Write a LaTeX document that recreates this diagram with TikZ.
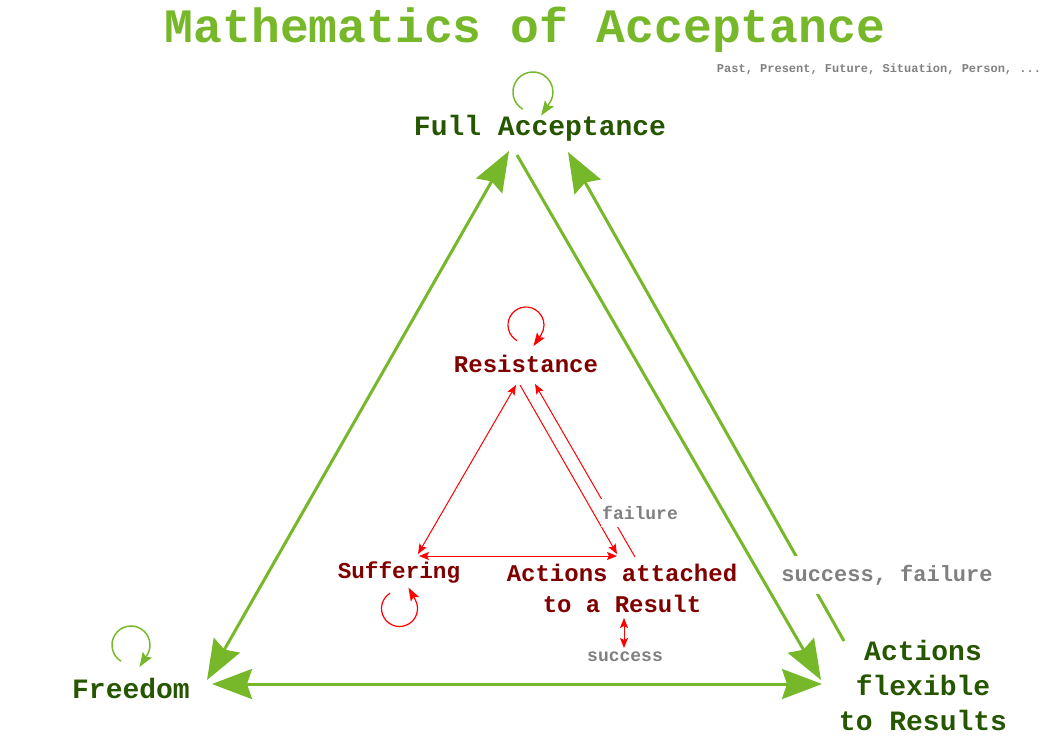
\documentclass[tikz,border=0pt]{standalone}
\usepackage{fontspec}
\setmainfont{Liberation Mono}
\usetikzlibrary{arrows.meta}
\definecolor{lgreen}{RGB}{119,184,42}
\definecolor{dgreen}{RGB}{38,86,0}
\definecolor{dred}{RGB}{128,0,0}
\definecolor{lred}{RGB}{255,0,0}
\definecolor{lgray}{RGB}{128,128,128}
\begin{document}
\begin{tikzpicture}[x=0.75pt,y=0.75pt,
  ttl/.style={font=\fontsize{36}{40}\selectfont\bfseries, text=lgreen, inner sep=0},
  gtxt/.style={font=\fontsize{21}{26.25}\selectfont\bfseries, text=dgreen, inner sep=0, align=center},
  rtxt/.style={font=\fontsize{18}{23.25}\selectfont\bfseries, text=dred, inner sep=0, align=center},
  smallnote/.style={font=\fontsize{9}{11}\selectfont\bfseries, text=lgray, inner sep=0},
  plainlbl/.style={font=\fontsize{13.5}{16}\selectfont\bfseries, text=lgray, inner sep=0},
  flbl/.style={font=\fontsize{13.5}{16}\selectfont\bfseries, text=lgray, fill=white, inner xsep=1pt, inner ysep=5.5pt},
  sflbl/.style={font=\fontsize{16.5}{20}\selectfont\bfseries, text=lgray, fill=white, inner xsep=2pt, inner ysep=7pt},
  gconn/.style={draw=lgreen, line width=2.25pt, arrows={-Stealth[length=30pt,width=22.5pt,inset=3.75pt]}},
  gdbl/.style={draw=lgreen, line width=2.25pt, arrows={Stealth[length=30pt,width=22.5pt,inset=3.75pt]-Stealth[length=30pt,width=22.5pt,inset=3.75pt]}},
  rconn/.style={draw=lred, line width=0.75pt, arrows={-Stealth[length=7.5pt,width=6pt,inset=1.5pt]}},
  rdbl/.style={draw=lred, line width=0.75pt, arrows={Stealth[length=7.5pt,width=6pt,inset=1.5pt]-Stealth[length=7.5pt,width=6pt,inset=1.5pt]}},
  gloop/.style={draw=lgreen, line width=1.1pt, arrows={-Stealth[length=11pt,width=8pt,inset=2pt]}},
  rloop/.style={draw=lred, line width=0.9pt, arrows={-Stealth[length=10pt,width=7pt,inset=2pt]}}
]
\useasboundingbox (0,0) rectangle (1052,-744);
\fill[white] (0,0) rectangle (1052,-744);

% nodes
\node[ttl] (title) at (525,-30) {Mathematics of Acceptance};
\node[smallnote] (ctx) at (879,-69) {Past, Present, Future, Situation, Person, ...};
\node[gtxt] (fa) at (540,-128) {Full Acceptance};
\node[gtxt] (fr) at (131,-688) {Freedom};
\node[gtxt] (af) at (923,-685) {Actions\\flexible\\to Results};
\node[rtxt] (res) at (526,-364) {Resistance};
\node[rtxt, font=\fontsize{17}{21}\selectfont\bfseries] (suf) at (399,-573) {Suffering};
\node[rtxt] (aa) at (622,-588.5) {Actions attached\\to a Result};
\node[plainlbl] (succ) at (625,-657) {success};

% outer green connectors
\draw[gdbl] ([shift={(-31,-23)}]fa.center) -- ([shift={(76,8)}]fr.center);
\draw[gconn] ([shift={(-23,-27)}]fa.center) -- ([shift={(-102,5)}]af.center);
\draw[gconn] ([shift={(-79,44)}]af.center) -- ([shift={(28,-24)}]fa.center);
\draw[gdbl] ([shift={(81,4)}]fr.center) -- ([shift={(-101,1)}]af.center);

% inner red connectors
\draw[rdbl] ([shift={(-10,-21)}]res.center) -- ([shift={(19,19)}]suf.center);
\draw[rconn] ([shift={(-6,-21)}]res.center) -- ([shift={(-5,34.5)}]aa.center);
\draw[rconn] ([shift={(13,31.5)}]aa.center) -- ([shift={(9,-20)}]res.center);
\draw[rdbl] ([shift={(20,17)}]suf.center) -- ([shift={(-5,32.5)}]aa.center);
\draw[rdbl] ([shift={(2,-29.5)}]aa.center) -- ([shift={(-1,9)}]succ.center);

% loops
\draw[gloop] ([shift={(-17.2,18.8)}]fa.center) arc[start angle=239.5, end angle=-34, radius=15pt] -- ++(-8.4,-12.4);
\draw[gloop] ([shift={(-9.9,26.8)}]fr.center) arc[start angle=238.6, end angle=-30, radius=14.25pt] -- ++(-8,-12.5);
\draw[rloop] ([shift={(-9,23.4)}]res.center) arc[start angle=240, end angle=-34, radius=13.5pt] -- ++(-7.5,-11);
\draw[rloop] ([shift={(-8.9,-20.15)}]suf.center) arc[start angle=121.5, end angle=389, radius=13.5pt] -- ++(-6.8,12.2);

% labels over connectors
\node[flbl] (fail) at (640,-513) {failure};
\node[sflbl] (sf) at (887,-575) {success, failure};
\end{tikzpicture}
\end{document}
